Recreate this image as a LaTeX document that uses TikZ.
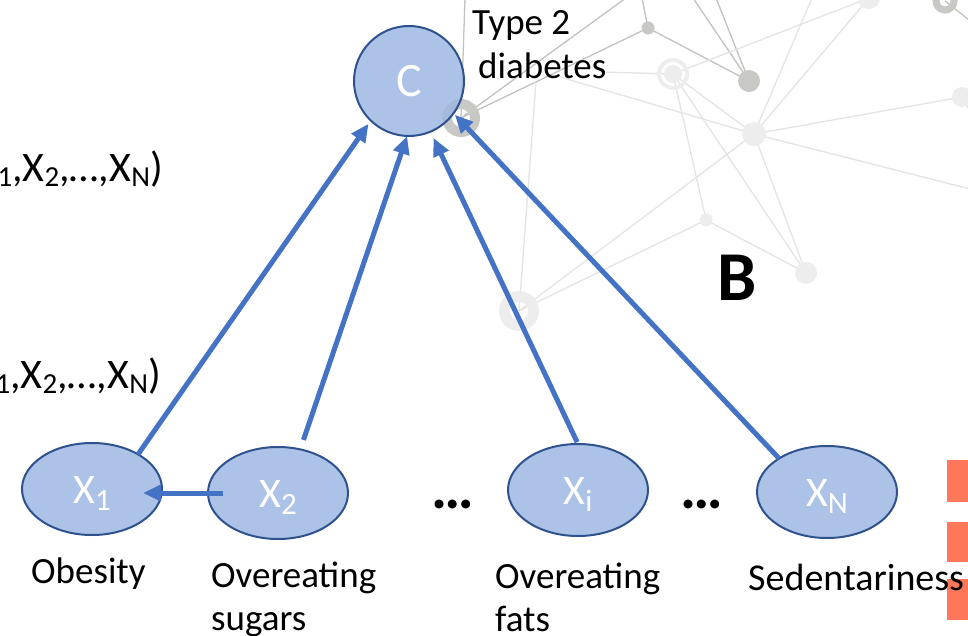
\documentclass[tikz,border=0pt]{standalone}
\usepackage{fontspec}
\setmainfont{Carlito}
\usetikzlibrary{arrows.meta,shapes.geometric}
\definecolor{nfill}{HTML}{9EB8E2}
\definecolor{nborder}{HTML}{2F528F}
\definecolor{arrblue}{HTML}{4472C4}
\definecolor{dkgray}{HTML}{C8C9C5}
\definecolor{dkline}{HTML}{C2C2BE}
\definecolor{ltgray}{HTML}{EDEDED}
\definecolor{ltline}{HTML}{E4E4E4}
\definecolor{orng}{HTML}{FF775A}
\newcommand\mysub[1]{\raisebox{-7pt}{\fontsize{31}{31}\selectfont #1}}
\newcommand\lsub[1]{\raisebox{-5pt}{\fontsize{29}{29}\selectfont #1}}
\begin{document}
\begin{tikzpicture}[x=1pt,y=-1pt,
  dl/.style={draw=dkline,line width=1.3pt},
  ll/.style={draw=ltline,line width=1.3pt},
  vnode/.style={ellipse,draw=nborder,line width=2pt,fill=nfill,fill opacity=0.85,text opacity=1,text=white,
    minimum width=140pt,minimum height=92pt,inner sep=0pt,outer sep=0pt,
    font=\fontsize{42}{42}\selectfont,text height=32pt,text depth=4pt},
  cnode/.style={circle,draw=nborder,line width=2pt,fill=nfill,fill opacity=0.85,text opacity=1,text=white,
    minimum size=110pt,inner sep=0pt,outer sep=0pt,font=\fontsize{48}{48}\selectfont},
  arr/.style={draw=arrblue,line width=5pt,-{Triangle[length=18pt,width=16pt]}},
  lbl/.style={anchor=base west,inner sep=0pt,font=\fontsize{37}{44}\selectfont},
  dotsty/.style={anchor=base,inner sep=0pt,font=\bfseries\fontsize{60}{60}\selectfont},
  ftext/.style={anchor=base east,inner sep=0pt,font=\fontsize{42}{42}\selectfont},
]
\useasboundingbox (0,0) rectangle (968,636);
\clip (0,0) rectangle (968,636);
\fill[white] (0,0) rectangle (968,636);
% background network: lines
\draw[dl] (465,-2) -- (461,118);
\draw[dl] (461,118) -- (630,-5);
\draw[dl] (461,118) -- (648,28);
\draw[dl] (648,28) -- (642,-2);
\draw[dl] (648,28) -- (749,81);
\draw[dl] (749,81) -- (693,-2);
\draw[dl] (749,81) -- (716,-2);
\draw[dl] (945,1) -- (978,27);
\draw[ll] (560,77) -- (754,134);
\draw[ll] (600,72) -- (673,74);
\draw[ll] (673,74) -- (869,-2);
\draw[ll] (536,82) -- (519,311);
\draw[ll] (673,74) -- (706,220);
\draw[ll] (673,74) -- (806,273);
\draw[ll] (673,74) -- (754,134);
\draw[ll] (754,134) -- (962,97);
\draw[ll] (754,134) -- (978,191);
\draw[ll] (754,134) -- (806,273);
\draw[ll] (754,134) -- (519,311);
\draw[ll] (754,134) -- (812,-2);
\draw[ll] (754,134) -- (869,-2);
\draw[ll] (706,220) -- (519,311);
\draw[ll] (706,220) -- (806,273);
\draw[ll] (962,97) -- (982,132);
% background network: dots and rings
\draw[dkgray,line width=10pt] (461,118) circle (14pt);
\draw[dkgray,line width=7pt] (945,1) circle (9pt);
\fill[dkgray] (648,28) circle (6.5pt);
\fill[dkgray] (749,81) circle (11pt);
\draw[ltgray,line width=11pt] (519,311) circle (14.5pt);
\draw[ltgray,line width=4pt] (673,74) circle (14pt);
\fill[ltgray] (673,74) circle (9pt);
\fill[ltgray] (754,134) circle (12pt);
\fill[ltgray] (706,220) circle (6.5pt);
\fill[ltgray] (806,273) circle (11pt);
\fill[ltgray] (869,-2) circle (11pt);
\fill[ltgray] (962,97) circle (10pt);
% orange bars at the right edge
\fill[orng] (947,460) rectangle (970,502);
\fill[orng] (947,522) rectangle (970,562);
\fill[orng] (947,579) rectangle (970,620);
% nodes
\node[cnode] (c) at (409,81) {C};
\node[vnode] (x1) at (92,489) {X\mysub{1}};
\node[vnode] (x2) at (278,493) {X\mysub{2}};
\node[vnode] (xi) at (578,490) {X\mysub{i}};
\node[vnode] (xn) at (827,492) {X\mysub{N}};
% arrows
\draw[arr, shorten >=4pt] (x1.37) -- (c.226);
\draw[arr, shorten <=10pt] (x2.63) -- (c.268);
\draw[arr, shorten <=2pt, shorten >=7pt] (xi.90) -- (c.293);
\draw[arr, shorten >=2pt] (xn.145) -- (c.324);
\draw[arr, shorten <=-15pt, shorten >=-19pt] (x2.west) -- (x2.west -| x1.east);
% ellipses between nodes
\node[dotsty] (d1) at (453,508) {…};
\node[dotsty] (d2) at (702,508) {…};
% labels
\node[lbl] (lob) at (31,583) {Obesity};
\node[lbl] (lsu1) at (211,587) {Overeating};
\node[lbl] (lsu2) at (211,630) {sugars};
\node[lbl] (lfa1) at (495,588) {Overeating};
\node[lbl] (lfa2) at (495,631) {fats};
\node[lbl,font=\fontsize{38}{44}\selectfont] (lse) at (748,590) {Sedentariness};
\node[lbl] (lt1) at (472,35) {Type 2};
\node[lbl] (lt2) at (478,79) {diabetes};
\node[anchor=base west,inner sep=0pt,font=\bfseries\fontsize{70}{70}\selectfont] (lb) at (717,300) {B};
% formulas cut at the left edge
\node[ftext] (f1) at (163,182) {X\lsub{1},X\lsub{2},…,X\lsub{N})};
\node[ftext] (f2) at (161,388) {X\lsub{1},X\lsub{2},…,X\lsub{N})};
\end{tikzpicture}
\end{document}
